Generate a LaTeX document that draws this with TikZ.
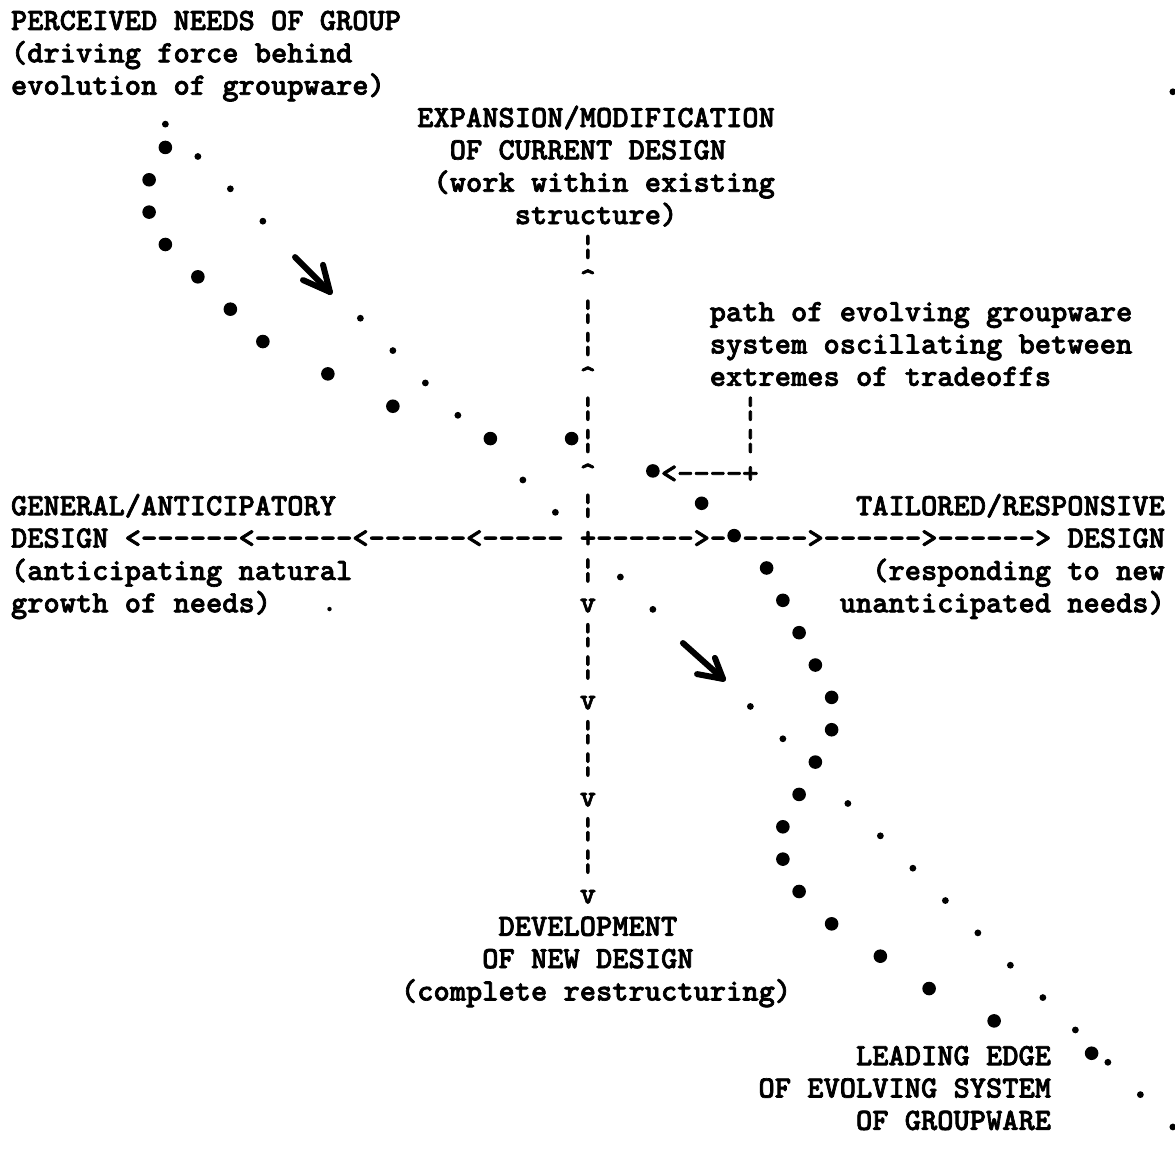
\documentclass[tikz,border=0pt]{standalone}
\usepackage{fontspec}
\usetikzlibrary{calc}
\newfontfamily\twfont{lmmonolt10-bold}[Extension=.otf,FakeBold=2.2]
\tikzset{
  tw/.style={font=\twfont\fontsize{15.48pt}{18pt}\selectfont,
    anchor=base west,inner sep=0pt,outer sep=0pt},
  bigarrow/.style={line width=3pt,line cap=round,line join=round},
}

\begin{document}
\begin{tikzpicture}[x=8.125pt,y=-16.175pt]
\useasboundingbox (-0.6769,-0.9274) rectangle (71.631,35.363);

% labels, one typewriter line each
\node[tw] (PN1) at (0,0) {PERCEIVED NEEDS OF GROUP};
\node[tw] (PN2) at (0,1) {(driving force behind};
\node[tw] (PN3) at (0,2) {evolution of groupware)};

\node[tw] (EM1) at (25,3) {EXPANSION/MODIFICATION};
\node[tw] (EM2) at (27,4) {OF CURRENT DESIGN};
\node[tw] (EM3) at (26,5) {(work within existing};
\node[tw] (EM4) at (31,6) {structure)};

\node[tw] (PT1) at (43,9) {path of evolving groupware};
\node[tw] (PT2) at (43,10) {system oscillating between};
\node[tw] (PT3) at (43,11) {extremes of tradeoffs};
\node[tw] (PB1) at (45,12) {¦};
\node[tw] (PB2) at (45,13) {¦};
\node[tw] (PB3) at (40,14) {<----+};

\node[tw] (GA1) at (0,15) {GENERAL/ANTICIPATORY};
\node[tw] (AX) at (0,16) {DESIGN <------<------<------<----- +------>- ---->------>------> DESIGN};
\node[tw] (GA3) at (0,17) {(anticipating natural};
\node[tw] (GA4) at (0,18) {growth of needs)};

\node[tw] (TR1) at (52,15) {TAILORED/RESPONSIVE};
\node[tw] (TR3) at (53,17) {(responding to new};
\node[tw] (TR4) at (51,18) {unanticipated needs)};

\node[tw] (DN1) at (30,28) {DEVELOPMENT};
\node[tw] (DN2) at (29,29) {OF NEW DESIGN};
\node[tw] (DN3) at (24,30) {(complete restructuring)};

\node[tw] (LE1) at (52,32) {LEADING EDGE};
\node[tw] (LE2) at (46,33) {OF EVOLVING SYSTEM};
\node[tw] (LE3) at (52,34) {OF GROUPWARE};

% vertical axis
\foreach \r in {7,9,10,12,13,15,17,19,20,22,23,25,26}
  \node[tw] (bar\r) at (35,\r) {¦};
\foreach \r in {8,11,14}
  \node[tw] (up\r) at (35,\r) {\textasciicircum};
\foreach \r in {18,21,24,27}
  \node[tw] (dn\r) at (35,\r) {v};

% trail of the system (asterisks)
\foreach \c/\r in {9/4,8/5,8/6,9/7,11/8,13/9,15/10,19/11,23/12,29/13,34/13,
    39/14,42/15,44/16,46/17,47/18,48/19,49/20,50/21,50/22,49/23,48/24,
    47/25,47/26,48/27,50/28,53/29,56/30,60/31,66/32}
  \fill ({\c+.5},{\r-.37}) circle[radius=3.4pt];

% trail of the needs (dots)
\foreach \c/\r in {9/3,11/4,13/5,15/6,21/9,23/10,25/11,27/12,31/14,33/15,
    37/17,39/18,45/21,47/22,51/24,53/25,55/26,57/27,59/28,61/29,63/30,
    65/31,67/32,69/33,71/34,71/2}
  \fill ({\c+.5},{\r-.09}) circle[radius=1.7pt];
\fill (19.6,17.9) circle[radius=1.1pt];

% the two hand drawn arrows
\coordinate (a1s) at (17.48,7.02);
\coordinate (a1t) at (19.63,8.10);
\coordinate (a1u) at (19.20,7.26);
\coordinate (a1l) at (17.97,7.73);
\draw[bigarrow] (a1s) -- (a1t);
\draw[bigarrow] (a1u) -- (a1t) -- (a1l);

\coordinate (a2s) at (41.35,18.95);
\coordinate (a2t) at (43.82,20.06);
\coordinate (a2u) at (43.32,19.41);
\coordinate (a2l) at (42.22,19.91);
\draw[bigarrow] (a2s) -- (a2t);
\draw[bigarrow] (a2u) -- (a2t) -- (a2l);

\end{tikzpicture}
\end{document}
